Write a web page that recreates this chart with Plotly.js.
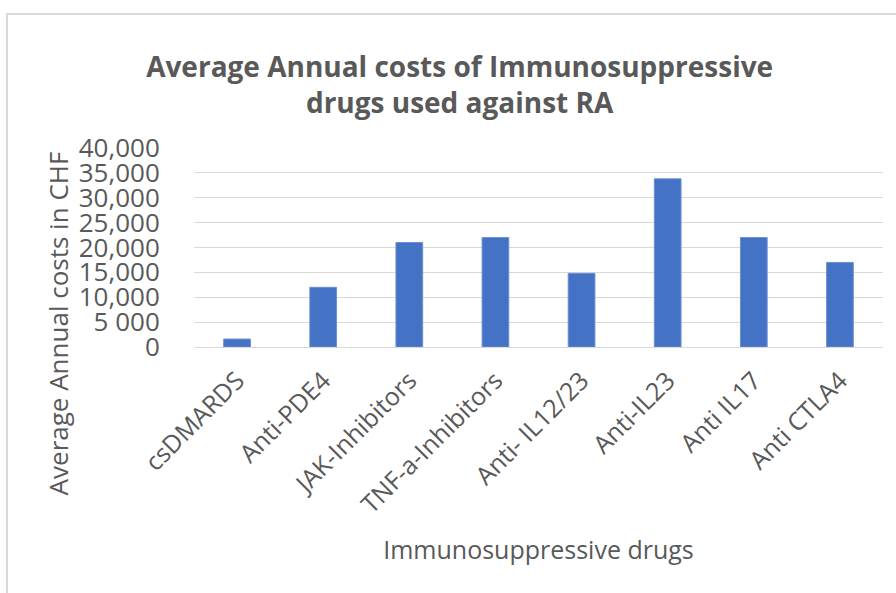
<!DOCTYPE html>
<html>
<head>
<meta charset="utf-8">
<script src="https://cdn.plot.ly/plotly-3.0.1.min.js"></script>
<style>html,body{margin:0;padding:0;background:#fff;}#chart{width:896px;height:593px;}</style>
</head>
<body>
<div id="chart"></div>
<script>
const categories = ["csDMARDS", "Anti-PDE4", "JAK-Inhibitors", "TNF-a-Inhibitors", "Anti- IL12/23", "Anti-IL23", "Anti IL17", "Anti CTLA4"];
const costs = [1600, 12000, 21000, 22000, 14800, 33800, 22000, 17000];
const tickVals = [0, 5000, 10000, 15000, 20000, 25000, 30000, 35000, 40000];
const tickText = ["0", "5 000", "10,000", "15,000", "20,000", "25,000", "30,000", "35,000", "40,000"];
const yTitle = "Average Annual costs in CHF";
const xTitle = "Immunosuppressive drugs";
const chartTitle = "Average Annual costs of Immunosuppressive<br>drugs used against RA";

const grey = "#595959";
const font = "Open Sans, sans-serif";
const trace = {
  type: "bar",
  x: categories,
  y: costs,
  marker: {color: "#4472C4", line: {color: "#6a8fd3", width: 1}},
  hoverinfo: "x+y"
};

const layout = {
  width: 896, height: 593,
  margin: {l: 194, r: 13, t: 148, b: 246},
  paper_bgcolor: "#ffffff",
  plot_bgcolor: "#ffffff",
  showlegend: false,
  bargap: 0.69,
  title: {
    text: chartTitle,
    font: {family: font, size: 28, color: grey, weight: "bold"},
    x: 0.513, xanchor: "center", y: 0.870, yanchor: "middle"
  },
  xaxis: {
    type: "category",
    tickangle: -45,
    tickfont: {family: font, size: 25, color: grey},
    showgrid: false,
    showline: false,
    ticks: "outside",
    ticklen: 8,
    tickcolor: "rgba(0,0,0,0)",
    title: {text: xTitle, font: {family: font, size: 25, color: grey}, standoff: 22}
  },
  yaxis: {
    range: [0, 40000],
    tickvals: tickVals,
    ticktext: tickText,
    tickfont: {family: font, size: 26, color: grey},
    gridcolor: "#d9d9d9",
    gridwidth: 1,
    zeroline: true,
    zerolinecolor: "#d9d9d9",
    zerolinewidth: 1,
    ticks: "outside",
    ticklen: 28,
    tickcolor: "rgba(0,0,0,0)"
  },
  annotations: [{
    text: yTitle,
    xref: "paper", yref: "paper",
    x: -0.197, y: 0.12,
    xanchor: "center", yanchor: "middle",
    textangle: -90,
    showarrow: false,
    font: {family: font, size: 26, color: grey}
  }],
  shapes: [{
    type: "path",
    xref: "paper", yref: "paper",
    path: "M -0.2714 -1.3 L -0.2714 1.673 L 1.1 1.673",
    line: {color: "#d9d9d9", width: 2}
  }]
};

Plotly.newPlot("chart", [trace], layout, {displayModeBar: false, staticPlot: true});
</script>
</body>
</html>
